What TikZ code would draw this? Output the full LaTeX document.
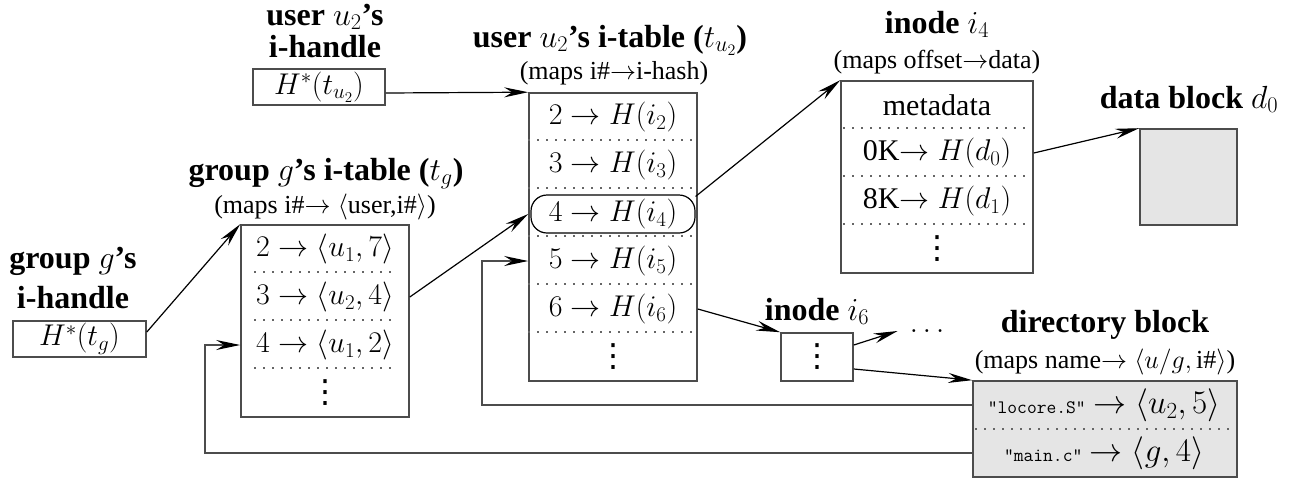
\RequirePackage{fix-cm}
\documentclass[tikz,border=0pt]{standalone}
\usepackage[no-math]{fontspec}
\setmainfont{Liberation Serif}
\newfontfamily\dvsans{DejaVu Sans}
\usetikzlibrary{arrows.meta}
\newcommand{\bigvdots}{{\dvsans\fontsize{32}{36}\selectfont ⋮}}
\tikzset{
  box/.style={draw=black!70, line width=1.6pt, inner sep=0pt},
  graybox/.style={box, fill=black!10},
  title/.style={font=\fontsize{32}{38}\selectfont\bfseries, anchor=base, inner sep=0pt},
  sub/.style={font=\fontsize{26}{30}\selectfont, anchor=base, inner sep=0pt},
  row/.style={font=\fontsize{30}{36}\selectfont, inner sep=0pt},
  sep/.style={draw=black!60, line width=1.5pt, dash pattern=on 1.5pt off 7.5pt},
  arr/.style={-{Stealth[length=24pt,width=10pt,inset=8pt]}, line width=1.2pt},
  link/.style={-{Stealth[length=24pt,width=10pt,inset=8pt,color=black]}, draw=black!70, line width=1.6pt}
}
\begin{document}
\begin{tikzpicture}[x=1pt,y=-1pt]
\useasboundingbox (0,0) rectangle (1296,480);

% user u2's i-handle
\node[title] (u2hA) at (325,25) {user $u_2$'s};
\node[title] (u2hB) at (325,57) {i-handle};
\node[box, row, minimum width=132pt, minimum height=36pt] (u2h) at (319,87) {$H^*(t_{u_2})$};

% group g's i-handle
\node[title] (ghA) at (73,268) {group $g$'s};
\node[title] (ghB) at (73,308) {i-handle};
\node[box, row, minimum width=133pt, minimum height=36pt] (gh) at (79.5,339) {$H^*(t_g)$};

% group g's i-table
\node[title] (gtA) at (326,180) {group $g$'s i-table ($t_g$)};
\node[sub] (gtB) at (325,213) {(maps i\#$\rightarrow\langle$user,i\#$\rangle$)};
\node[box, minimum width=168pt, minimum height=192pt] (gt) at (325,321) {};
\node[row] (gr1) at (325,249) {$2 \rightarrow \langle u_1, 7\rangle$};
\node[row] (gr2) at (325,297) {$3 \rightarrow \langle u_2, 4\rangle$};
\node[row] (gr3) at (325,345) {$4 \rightarrow \langle u_1, 2\rangle$};
\node[row] (gr4) at (325,393) {\bigvdots};
\foreach \k in {1,2,3}
  \draw[sep] ([xshift=14pt,yshift=-48*\k pt]gt.north west) -- ([xshift=-14pt,yshift=-48*\k pt]gt.north east);

% user u2's i-table
\node[title] (utA) at (610,47) {user $u_2$'s i-table ($t_{u_2}$)};
\node[sub] (utB) at (614,79) {(maps i\#$\rightarrow$i-hash)};
\node[box, minimum width=168pt, minimum height=288pt] (u2t) at (613,237) {};
\node[row] (u2r1) at (613,117) {$2 \rightarrow H(i_2)$};
\node[row] (u2r2) at (613,165) {$3 \rightarrow H(i_3)$};
\node[row, draw=black, line width=1.2pt, rounded corners=16pt, minimum width=164pt, minimum height=38pt] (u2r3) at (613,214) {$4 \rightarrow H(i_4)$};
\node[row] (u2r4) at (613,261) {$5 \rightarrow H(i_5)$};
\node[row] (u2r5) at (613,309) {$6 \rightarrow H(i_6)$};
\node[row] (u2r6) at (613,357) {\bigvdots};
\foreach \k in {1,...,5}
  \draw[sep] ([yshift=-48*\k pt]u2t.north west) -- ([yshift=-48*\k pt]u2t.north east);

% inode i4
\node[title] (i4A) at (937,33) {inode $i_4$};
\node[sub] (i4B) at (937,68) {(maps offset$\rightarrow$data)};
\node[box, minimum width=192pt, minimum height=192pt] (i4) at (937,177) {};
\node[row] (i4r1) at (937,105) {metadata};
\node[row] (i4r2) at (937,153) {0K$\rightarrow H(d_0)$};
\node[row] (i4r3) at (937,201) {8K$\rightarrow H(d_1)$};
\node[row] (i4r4) at (937,249) {\bigvdots};
\foreach \k in {1,2,3}
  \draw[sep] ([xshift=3pt,yshift=-48*\k pt]i4.north west) -- ([xshift=-3pt,yshift=-48*\k pt]i4.north east);

% data block
\node[title] (dbA) at (1189,108) {data block $d_0$};
\node[graybox, minimum width=97pt, minimum height=96pt] (db) at (1188.5,177) {};

% inode i6
\node[title] (i6A) at (817,320) {inode $i_6$};
\node[box, minimum width=72pt, minimum height=48pt] (i6) at (817,357) {};
\node[row] (i6dots) at (817,357) {\bigvdots};
\node[row] (etc) at (927,331) {$\ldots$};

% directory block
\node[title] (dirA) at (1105,332) {directory block};
\node[sub] (dirB) at (1105,368) {(maps name$\rightarrow \langle u/g,\mbox{i\#}\rangle$)};
\node[graybox, minimum width=264pt, minimum height=96pt] (dir) at (1105,429) {};
\node[row] (dr1) at (1104,405) {{\ttfamily\fontsize{19}{22}\selectfont "locore.S"} {\fontsize{33}{38}\selectfont$\rightarrow \langle u_2, 5\rangle$}};
\node[row] (dr2) at (1104,453) {{\ttfamily\fontsize{19}{22}\selectfont "main.c"} {\fontsize{33}{38}\selectfont$\rightarrow \langle g, 4\rangle$}};
\draw[sep] ([xshift=3pt]dir.west) -- ([xshift=-3pt]dir.east);

% connectors
\draw[arr] ([yshift=-6pt]u2h.east) -- (u2t.north west);
\draw[arr] ([yshift=7pt]gh.east) -- (gt.north west);
\draw[arr] (gt.east |- gr2) -- (u2t.west |- u2r3);
\draw[arr] (u2r3.12) -- (i4.north west);
\draw[arr] (i4.east |- i4r2) -- (db.north west);
\draw[arr] (u2t.east |- u2r5) -- (i6.north west);
\draw[arr] ([yshift=12pt]i6.east) -- ([xshift=-12pt]etc.west);
\draw[arr] ([yshift=-12pt]i6.east) -- (dir.north west);
\coordinate (turnA) at (482,405);
\coordinate (turnB) at (205,453);
\draw[link] (dir.west |- dr1) -- (turnA) |- (u2t.west |- u2r4);
\draw[link] (dir.west |- dr2) -- (turnB) |- (gt.west |- gr3);
\end{tikzpicture}
\end{document}
